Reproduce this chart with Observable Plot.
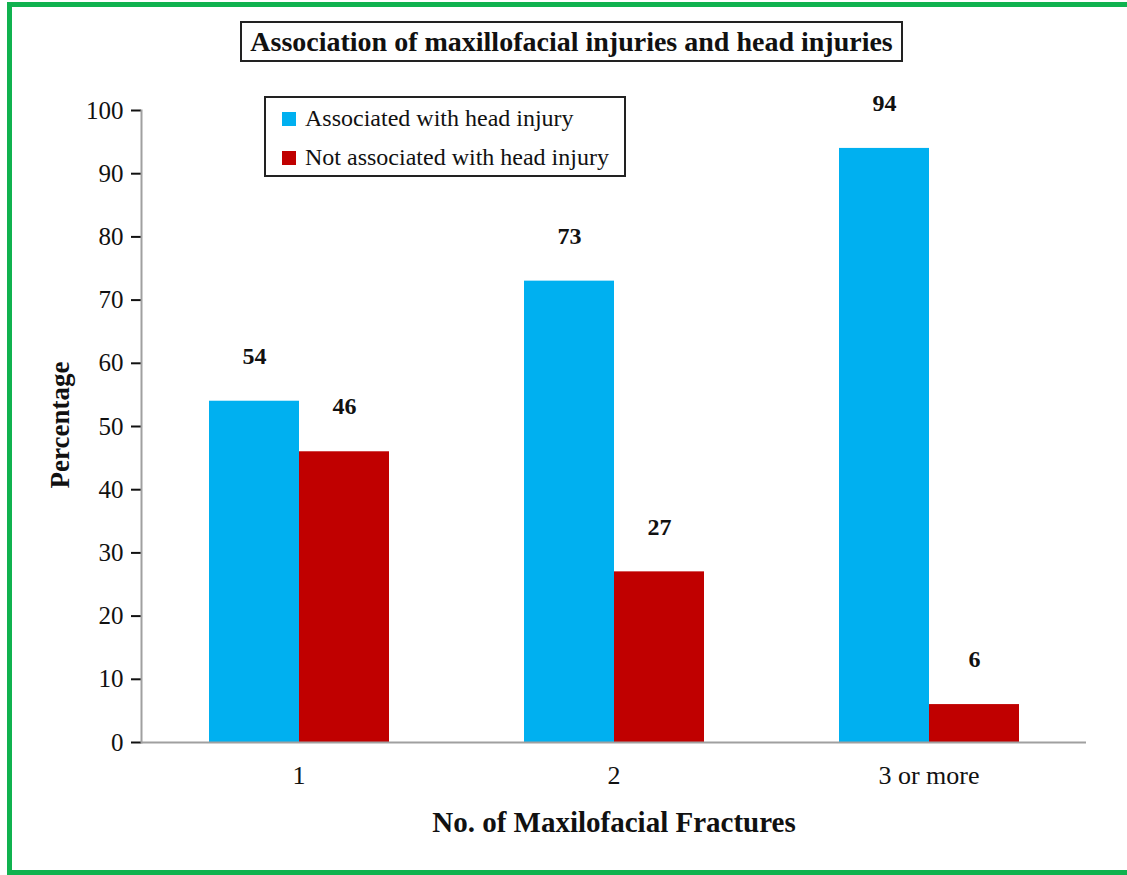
<!DOCTYPE html>
<html>
<head>
<meta charset="utf-8">
<script src="https://cdn.jsdelivr.net/npm/d3@7"></script>
<script src="https://cdn.jsdelivr.net/npm/@observablehq/plot@0.6"></script>
<style>
  html, body { margin: 0; padding: 0; background: #fff; }
  body { width: 1127px; height: 875px; position: relative; overflow: hidden; font-family: "Liberation Serif", "DejaVu Serif", serif; color: #111; }
  #border { position: absolute; left: 7px; top: 2px; width: 1200px; height: 873px; box-sizing: border-box; border: 5px solid #10b24f; }
  #chart { position: absolute; left: 0; top: 0; }
  #title { position: absolute; left: 240px; top: 21px; width: 663px; height: 41px; box-sizing: border-box; border: 2px solid #222; background: #fff;
           font-family: "Liberation Serif", "DejaVu Serif", serif; font-weight: bold; font-size: 28px; text-align: center; line-height: 37px; white-space: nowrap; }
  #legend { position: absolute; left: 264px; top: 96px; width: 362px; height: 81px; box-sizing: border-box; border: 2px solid #222; background: #fff; padding: 1px 0 0 16px; }
  .item { display: flex; align-items: center; height: 39px; font-size: 24px; white-space: nowrap; font-family: "Liberation Serif", "DejaVu Serif", serif; }
  .sw { width: 14px; height: 14px; margin-right: 9px; flex: none; }
  #ylab { position: absolute; left: 60px; top: 425px; transform: translate(-50%, -50%) rotate(-90deg); font-weight: bold; font-size: 27px; white-space: nowrap; font-family: "Liberation Serif", "DejaVu Serif", serif; }
  #xlab { position: absolute; left: 614px; top: 822px; transform: translate(-50%, -50%); font-weight: bold; font-size: 29px; white-space: nowrap; font-family: "Liberation Serif", "DejaVu Serif", serif; }
  #chart svg g[aria-label="y-axis tick"] { stroke: #a0a0a0; stroke-width: 2px; }
  #chart svg g[aria-label="fx-axis tick label"] { font-size: 26px; }
</style>
</head>
<body>
<div id="border"></div>
<div id="chart"></div>
<div id="title">Association of maxillofacial injuries and head injuries</div>
<div id="legend"></div>
<div id="ylab">Percentage</div>
<div id="xlab">No. of Maxilofacial Fractures</div>
<script>
const groups = ["1", "2", "3 or more"];
const seriesNames = ["Associated with head injury", "Not associated with head injury"];
const associated = [54, 73, 94];
const notAssociated = [46, 27, 6];
const seriesColors = ["#00b0f0", "#c00000"];
const yTicks = [0, 10, 20, 30, 40, 50, 60, 70, 80, 90, 100];

const rows = [];
groups.forEach((g, i) => {
  rows.push({group: g, series: seriesNames[0], value: associated[i]});
  rows.push({group: g, series: seriesNames[1], value: notAssociated[i]});
});

const chart = Plot.plot({
  width: 1127,
  height: 875,
  marginLeft: 140,
  marginRight: 41,
  marginTop: 110,
  marginBottom: 133,
  style: {fontFamily: "'Liberation Serif', 'DejaVu Serif', serif", fontSize: "25px", color: "#111", background: "transparent", overflow: "visible"},
  fx: {domain: groups, padding: 0, label: null, tickSize: 0, tickPadding: 23, axis: "bottom"},
  x: {domain: seriesNames, paddingInner: 0, paddingOuter: 0.75, axis: null},
  y: {domain: [0, 100], ticks: yTicks, tickSize: 10, tickPadding: 8, label: null},
  color: {domain: seriesNames, range: seriesColors},
  marks: [
    Plot.barY(rows, {fx: "group", x: "series", y: "value", fill: "series"}),
    Plot.ruleY([0], {stroke: "#a0a0a0", strokeWidth: 2}),
    Plot.frame({anchor: "left", stroke: "#a0a0a0", strokeWidth: 2, facetAnchor: "left"}),
    Plot.text(rows, {fx: "group", x: "series", y: "value", text: d => String(d.value), dy: -45, fontWeight: "bold", fontSize: 24, fill: "#111"})
  ]
});
document.getElementById("chart").appendChild(chart);

const legend = document.getElementById("legend");
seriesNames.forEach((name, i) => {
  const item = document.createElement("div");
  item.className = "item";
  const sw = document.createElement("span");
  sw.className = "sw";
  sw.style.background = seriesColors[i];
  item.appendChild(sw);
  item.appendChild(document.createTextNode(name));
  legend.appendChild(item);
});
</script>
</body>
</html>
